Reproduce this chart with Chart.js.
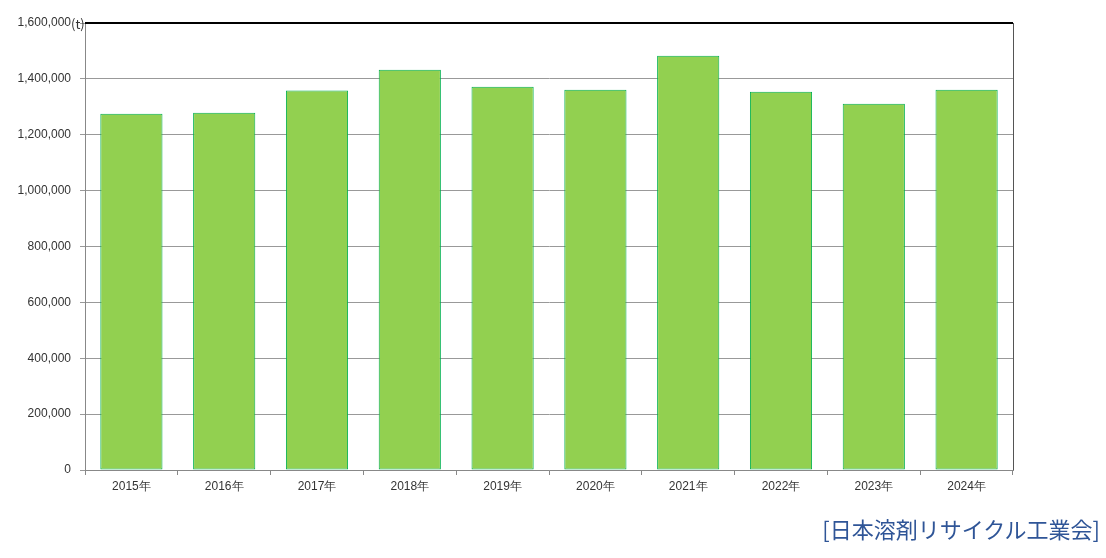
<!DOCTYPE html>
<html lang="ja">
<head>
<meta charset="UTF-8" />
<title>溶剤リサイクル量</title>
<script src="https://cdn.jsdelivr.net/npm/chart.js"></script>
<style>
  body { margin: 0; background: #fff; font-family: 'Noto Sans CJK JP', 'Noto Sans', sans-serif; }
  .wrap { position: relative; width: 1106px; height: 558px; }
  #unit { position: absolute; left: 71px; top: 14px; font-size: 13px; color: #333; }
  #source { position: absolute; right: 6px; top: 512px; font-size: 22px; color: #2f5597; }
</style>
</head>
<body>
<div class="wrap">
  <canvas id="chart" width="1106" height="558"></canvas>
  <span id="unit">(t)</span>
  <span id="source">[日本溶剤リサイクル工業会]</span>
</div>
<script>
  const years = ['2015年', '2016年', '2017年', '2018年', '2019年', '2020年', '2021年', '2022年', '2023年', '2024年'];
  const amounts = [1275000, 1279000, 1358000, 1433000, 1372000, 1361000, 1483000, 1354000, 1311000, 1361000];

  // top black line + right border
  const frame = {
    id: 'frame',
    afterDraw(chart) {
      const { ctx, chartArea: a } = chart;
      ctx.save();
      ctx.strokeStyle = '#000';
      ctx.lineWidth = 2;
      ctx.beginPath(); ctx.moveTo(a.left, a.top); ctx.lineTo(a.right, a.top); ctx.stroke();
      ctx.strokeStyle = '#555';
      ctx.lineWidth = 1;
      ctx.beginPath(); ctx.moveTo(a.right + 0.5, a.top); ctx.lineTo(a.right + 0.5, a.bottom); ctx.stroke();
      ctx.restore();
    }
  };

  new Chart(document.getElementById('chart'), {
    type: 'bar',
    data: {
      labels: years,
      datasets: [{
        data: amounts,
        backgroundColor: '#92d050',
        borderColor: '#00b050',
        borderWidth: 1,
        borderSkipped: false,
        categoryPercentage: 0.67,
        barPercentage: 1
      }]
    },
    options: {
      responsive: false,
      animation: false,
      layout: { padding: { top: 23, right: 93 } },
      plugins: { legend: { display: false }, tooltip: { enabled: false } },
      scales: {
        x: {
          afterFit(s) { s.height = 88; },
          grid: { drawOnChartArea: false, offset: true, tickLength: 5, color: '#888' },
          border: { color: '#888' },
          ticks: { color: '#333', font: { size: 12 }, padding: 4 }
        },
        y: {
          min: 0, max: 1600000,
          afterFit(s) { s.width = 85; },
          grid: { color: '#999', tickLength: 5 },
          border: { color: '#888' },
          ticks: {
            stepSize: 200000, color: '#333', font: { size: 12 }, padding: 9,
            callback: v => v.toLocaleString('en-US')
          }
        }
      }
    },
    plugins: [frame]
  });
</script>
</body>
</html>
